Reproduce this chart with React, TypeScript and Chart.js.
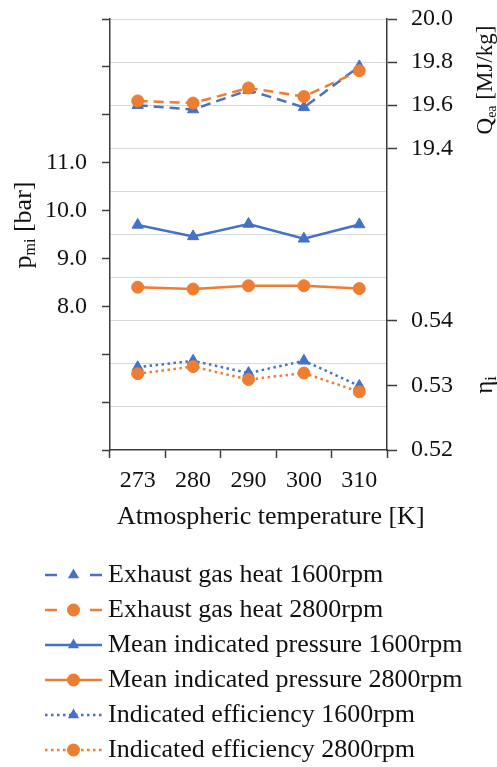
import React, { useEffect, useRef } from 'react';
import { Chart, registerables } from 'chart.js';

Chart.register(...registerables);

// ---- data ----
const temperatures = ['273', '280', '290', '300', '310'];
const exhaustHeat1600 = [19.6, 19.58, 19.67, 19.59, 19.78];
const exhaustHeat2800 = [19.62, 19.61, 19.68, 19.64, 19.76];
const meanPressure1600 = [9.7, 9.46, 9.72, 9.41, 9.71];
const meanPressure2800 = [8.4, 8.36, 8.43, 8.43, 8.37];
const efficiency1600 = [0.5328, 0.5338, 0.5319, 0.5338, 0.5299];
const efficiency2800 = [0.5318, 0.5329, 0.5309, 0.5319, 0.529];

const pressureLabelRange = [8, 11];
const heatLabelMin = 19.4;
const efficiencyTicks = [0.52, 0.53, 0.54];
const seriesLabels = [
  'Exhaust gas heat 1600rpm',
  'Exhaust gas heat 2800rpm',
  'Mean indicated pressure 1600rpm',
  'Mean indicated pressure 2800rpm',
  'Indicated efficiency 1600rpm',
  'Indicated efficiency 2800rpm',
];
const xTitle = 'Atmospheric temperature [K]';

// ---- style ----
const FONT = "'Liberation Serif', 'Times New Roman', serif";
const BLUE = '#4472C4';
const ORANGE = '#ED7D31';
const AXIS = '#3c3c3c';
const GRID = '#d9d9d9';
const TEXT = '#111111';
const DASH = [10, 6];
const DOT = [2.5, 3.5];
const LW = 2.5;

type LineKind = 'dash' | 'solid' | 'dot';
type Marker = 'triangle' | 'circle';

function makeSample(color: string, kind: LineKind, marker: Marker) {
  const c = document.createElement('canvas');
  c.width = 57;
  c.height = 16;
  const g = c.getContext('2d')!;
  g.strokeStyle = color;
  g.fillStyle = color;
  g.lineWidth = LW;
  const y = 8;
  g.beginPath();
  if (kind === 'dash') {
    g.moveTo(0, y);
    g.lineTo(12, y);
    g.moveTo(45, y);
    g.lineTo(57, y);
  } else {
    if (kind === 'dot') g.setLineDash(DOT);
    g.moveTo(0, y);
    g.lineTo(57, y);
  }
  g.stroke();
  g.setLineDash([]);
  const cx = 28.5;
  g.beginPath();
  if (marker === 'circle') {
    g.arc(cx, y, 6.5, 0, Math.PI * 2);
  } else {
    const r = 6.5;
    g.moveTo(cx, y - r);
    g.lineTo(cx + r * Math.sin((2 * Math.PI) / 3), y + r / 2);
    g.lineTo(cx - r * Math.sin((2 * Math.PI) / 3), y + r / 2);
    g.closePath();
  }
  g.fill();
  return c;
}

function drawRotated(ctx: CanvasRenderingContext2D, parts: [string, boolean][], cx: number, cy: number, size: number) {
  const subSize = Math.round(size * 0.62);
  ctx.save();
  ctx.translate(cx, cy);
  ctx.rotate(-Math.PI / 2);
  ctx.textAlign = 'left';
  ctx.textBaseline = 'alphabetic';
  ctx.fillStyle = TEXT;
  const widths = parts.map(([t, sub]) => {
    ctx.font = `${sub ? subSize : size}px ${FONT}`;
    return ctx.measureText(t).width;
  });
  const total = widths.reduce((a, b) => a + b, 0);
  let x = -total / 2;
  const base = size * 0.34;
  parts.forEach(([t, sub], i) => {
    ctx.font = `${sub ? subSize : size}px ${FONT}`;
    ctx.fillText(t, x, sub ? base + size * 0.17 : base);
    x += widths[i];
  });
  ctx.restore();
}

const titlesPlugin = {
  id: 'axisTitles',
  afterDraw(chart: any) {
    const { ctx, chartArea: ca } = chart;
    ctx.save();
    ctx.fillStyle = TEXT;
    ctx.font = `26px ${FONT}`;
    ctx.textAlign = 'left';
    ctx.textBaseline = 'middle';
    ctx.fillText(xTitle, ca.left + 7, ca.bottom + 67);
    ctx.restore();
    drawRotated(ctx, [['p', false], ['mi', true], [' [bar]', false]], ca.left - 88, ca.top + 206, 26);
    drawRotated(ctx, [['Q', false], ['ea', true], [' [MJ/kg]', false]], ca.right + 97, ca.top + 61, 23);
    drawRotated(ctx, [['η', false], ['i', true]], ca.right + 96, ca.top + 366, 25);
  },
};

const noPad = (s: any) => {
  s.paddingTop = 0;
  s.paddingBottom = 0;
  s.paddingLeft = 0;
  s.paddingRight = 0;
};

export default function App() {
  const ref = useRef<HTMLCanvasElement | null>(null);

  useEffect(() => {
    if (!ref.current) return;
    Chart.defaults.font.family = FONT;
    const samples = [
      makeSample(BLUE, 'dash', 'triangle'),
      makeSample(ORANGE, 'dash', 'circle'),
      makeSample(BLUE, 'solid', 'triangle'),
      makeSample(ORANGE, 'solid', 'circle'),
      makeSample(BLUE, 'dot', 'triangle'),
      makeSample(ORANGE, 'dot', 'circle'),
    ];
    const mk = (i: number, data: number[], axis: string, color: string, dash: number[], marker: Marker) => ({
      label: seriesLabels[i],
      data,
      yAxisID: axis,
      borderColor: color,
      backgroundColor: color,
      borderWidth: LW,
      borderDash: dash,
      pointStyle: marker,
      pointRadius: marker === 'circle' ? 6 : 6.5,
      pointBackgroundColor: color,
      pointBorderColor: color,
      pointBorderWidth: 1,
      tension: 0,
      fill: false,
      order: color === BLUE ? 1 : 0,
    });

    const tickFont = { family: FONT, size: 24 };
    const chart = new Chart(ref.current, {
      type: 'line',
      data: {
        labels: temperatures,
        datasets: [
          mk(0, exhaustHeat1600, 'yQ', BLUE, DASH, 'triangle'),
          mk(1, exhaustHeat2800, 'yQ', ORANGE, DASH, 'circle'),
          mk(2, meanPressure1600, 'yP', BLUE, [], 'triangle'),
          mk(3, meanPressure2800, 'yP', ORANGE, [], 'circle'),
          mk(4, efficiency1600, 'yEta', BLUE, DOT, 'triangle'),
          mk(5, efficiency2800, 'yEta', ORANGE, DOT, 'circle'),
        ] as any,
      },
      options: {
        animation: false,
        responsive: true,
        maintainAspectRatio: false,
        devicePixelRatio: 1,
        layout: { padding: { left: 43, top: 19, right: 0, bottom: 0 } },
        plugins: {
          tooltip: { enabled: false },
          title: { display: false },
          legend: {
            display: true,
            position: 'bottom',
            align: 'start',
            labels: {
              usePointStyle: true,
              pointStyleWidth: 43,
              padding: 9,
              color: TEXT,
              font: { family: FONT, size: 26 },
              generateLabels: (c: any) =>
                c.data.datasets.map((ds: any, i: number) => ({
                  text: ds.label,
                  pointStyle: samples[i],
                  fillStyle: ds.borderColor,
                  strokeStyle: ds.borderColor,
                  lineWidth: 0,
                  hidden: false,
                  datasetIndex: i,
                  fontColor: TEXT,
                })),
            },
          },
        },
        scales: {
          x: {
            type: 'category',
            offset: true,
            grid: {
              offset: true,
              drawOnChartArea: false,
              drawTicks: true,
              tickLength: 8,
              tickColor: AXIS,
              tickWidth: 1.5,
            },
            border: { display: true, color: AXIS, width: 1.5 },
            ticks: { font: tickFont, color: TEXT, padding: 8, maxRotation: 0 },
            afterFit: (s: any) => {
              s.height = 103;
              noPad(s);
            },
          },
          yP: {
            type: 'linear',
            position: 'left',
            min: 5,
            max: 14,
            ticks: {
              stepSize: 1,
              font: tickFont,
              color: TEXT,
              padding: 15,
              callback: (v: any) =>
                v >= pressureLabelRange[0] - 1e-6 && v <= pressureLabelRange[1] + 1e-6 ? Number(v).toFixed(1) : '',
            },
            grid: {
              drawOnChartArea: false,
              drawTicks: true,
              tickLength: 8,
              tickColor: AXIS,
              tickWidth: 1.5,
            },
            border: { display: true, color: AXIS, width: 1.5 },
            afterFit: (s: any) => {
              s.width = 67;
              noPad(s);
            },
          },
          yEta: {
            type: 'linear',
            position: 'right',
            weight: 0,
            min: 0.52,
            max: 0.52 + 0.2 / 3,
            afterBuildTicks: (s: any) => {
              s.ticks = efficiencyTicks.map((v) => ({ value: v }));
            },
            ticks: {
              font: tickFont,
              color: TEXT,
              mirror: true,
              crossAlign: 'near',
              padding: 66,
              callback: (v: any) => Number(v).toFixed(2),
            },
            grid: {
              drawOnChartArea: false,
              drawTicks: true,
              tickLength: 10,
              tickColor: AXIS,
              tickWidth: 1.5,
            },
            border: { display: false },
            afterFit: (s: any) => {
              s.width = 0;
              noPad(s);
            },
          },
          yQ: {
            type: 'linear',
            position: 'right',
            weight: 1,
            min: 18,
            max: 20,
            ticks: {
              stepSize: 0.2,
              font: tickFont,
              color: TEXT,
              padding: 14,
              callback: (v: any) => (v >= heatLabelMin - 1e-6 ? Number(v).toFixed(1) : ''),
            },
            grid: {
              drawOnChartArea: true,
              drawTicks: true,
              tickLength: 10,
              lineWidth: 1,
              tickWidth: 1.5,
              color: (c: any) => (c.tick && c.tick.value <= 18.001 ? 'rgba(0,0,0,0)' : GRID),
              tickColor: (c: any) => (c.tick && c.tick.value >= heatLabelMin - 1e-6 ? AXIS : 'rgba(0,0,0,0)'),
            },
            border: { display: true, color: AXIS, width: 1.5 },
            afterFit: (s: any) => {
              s.width = 110;
              noPad(s);
            },
          },
        },
      } as any,
      plugins: [titlesPlugin],
    });
    return () => chart.destroy();
  }, []);

  return (
    <div style={{ position: 'absolute', left: 0, top: 0, width: 497, height: 767, overflow: 'hidden', background: '#fff' }}>
      <div style={{ position: 'relative', width: 497, height: 773 }}>
        <canvas ref={ref} />
      </div>
    </div>
  );
}
